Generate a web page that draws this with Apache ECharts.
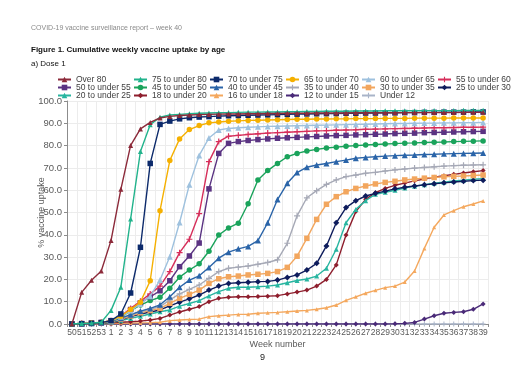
<!DOCTYPE html>
<html><head><meta charset="utf-8">
<script src="https://cdn.jsdelivr.net/npm/echarts@6/dist/echarts.min.js"></script>
<style>html,body{margin:0;padding:0;background:#fff}#c{width:524px;height:370px}</style>
</head><body><div id="c"></div>
<script>
const weeks = ['50','51','52','53','1','2','3','4','5','6','7','8','9','10','11','12','13','14','15','16','17','18','19','20','21','22','23','24','25','26','27','28','29','30','31','32','33','34','35','36','37','38','39'];
const yTicks = [0,10,20,30,40,50,60,70,80,90,100];

const over80 = [0,14.2,19.6,23.8,37.5,60.4,80.1,87.5,90.4,92.4, 93.1,93.5,93.7,93.9,94.0,94.1,94.2,94.2,94.3,94.3, 94.4,94.4,94.5,94.5,94.5,94.6,94.6,94.6,94.6,94.7, 94.7,94.7,94.7,94.7,94.8,94.8,94.8,94.8,94.8,94.8, 94.9,94.9,94.9];
const age75 = [0,0.2,0.4,0.8,6.1,16.5,47.1,77.4,89.4,92.7, 93.7,94.0,94.3,94.5,94.6,94.7,94.8,94.9,95.0,95.0, 95.1,95.1,95.2,95.2,95.3,95.3,95.4,95.4,95.4,95.5, 95.5,95.5,95.6,95.6,95.6,95.6,95.7,95.7,95.7,95.7, 95.8,95.8,95.8];
const age70 = [0,0.1,0.3,0.6,1.5,4.5,13.9,34.4,72.0,89.5, 91.0,92.0,92.5,92.8,93.0,93.2,93.4,93.5,93.6,93.7, 93.8,93.9,94.0,94.1,94.2,94.3,94.35,94.4,94.5,94.5, 94.6,94.6,94.7,94.7,94.8,94.8,94.9,94.9,95.0,95.0, 95.0,95.1,95.1];
const age65 = [0,0.2,0.4,0.7,1.5,3.5,6.5,9.8,19.4,50.8, 73.3,83.0,87.2,89.0,90.2,90.6,90.9,91.1,91.3,91.4, 91.5,91.6,91.7,91.8,91.8,91.9,91.9,92.0,92.0,92.1, 92.1,92.1,92.2,92.2,92.2,92.3,92.3,92.3,92.3,92.4, 92.4,92.4,92.4];
const age60 = [0,0.2,0.4,0.7,1.4,3.2,6.0,9.0,12.5,19.7, 30.2,45.5,62.5,75.6,83.4,87.0,87.7,88.0,88.2,88.4, 88.6,88.7,88.8,88.9,89.0,89.1,89.2,89.3,89.4,89.5, 89.6,89.7,89.8,89.9,89.9,90.0,90.1,90.1,90.2,90.2, 90.3,90.3,90.4];
const age55 = [0,0.2,0.4,0.7,1.5,3.5,7.0,10.2,13.5,17.0, 23.5,32.0,38.0,49.5,72.8,81.8,84.2,84.6,85.0,85.3, 85.6,85.8,86.0,86.2,86.4,86.6,86.7,86.9,87.0,87.1, 87.3,87.4,87.5,87.6,87.7,87.8,87.9,88.0,88.0,88.1, 88.2,88.2,88.3];
const age50 = [0,0.2,0.4,0.7,1.4,3.3,6.5,9.5,12.2,14.9, 19.4,25.7,30.5,36.3,60.6,76.5,81.0,81.8,82.3,82.7, 83.0,83.3,83.5,83.7,83.9,84.1,84.3,84.5,84.6,84.8, 84.9,85.1,85.2,85.4,85.5,85.6,85.8,85.9,86.0,86.1, 86.2,86.3,86.4];
const age45 = [0,0.2,0.4,0.7,1.3,3.0,6.0,8.5,10.5,12.0, 16.0,21.0,24.2,27.0,32.6,39.9,43.1,45.2,53.9,64.6, 68.8,72.0,75.0,76.5,77.6,78.3,78.9,79.3,79.7,80.0, 80.3,80.5,80.7,80.9,81.1,81.2,81.4,81.5,81.6,81.8, 81.9,82.0,82.1];
const age40 = [0,0.2,0.3,0.6,1.2,2.6,4.2,5.8,7.0,8.6, 12.2,16.5,19.7,21.6,25.3,29.5,32.2,33.7,34.8,37.4, 45.4,55.8,63.1,67.9,70.3,71.3,72.0,72.8,73.5,74.3, 74.7,75.0,75.3,75.5,75.7,75.8,76.0,76.1,76.3,76.4, 76.5,76.6,76.7];
const age35 = [0,0.2,0.3,0.5,1.1,2.4,4.0,5.5,6.6,7.8, 10.8,13.5,15.5,17.5,20.5,23.5,25.0,25.5,26.0,26.8, 27.6,28.8,36.2,48.5,56.6,59.8,62.6,64.6,66.1,66.8, 67.6,68.0,68.6,69.1,69.5,69.9,70.2,70.5,70.8,71.0, 71.2,71.3,71.4];
const age30 = [0,0.1,0.3,0.5,1.0,2.1,3.6,5.0,6.0,7.0, 9.3,11.5,13.3,15.2,18.2,20.3,21.2,21.5,22.0,22.3, 22.7,23.5,25.4,30.4,38.4,46.9,53.7,57.1,59.3,60.8, 61.9,62.8,63.5,64.0,64.6,65.0,65.4,65.7,66.0,66.2, 66.4,66.6,66.8];
const age25 = [0,0.1,0.3,0.5,0.9,1.9,3.3,4.5,5.4,6.3, 8.1,9.8,11.3,13.0,15.2,17.0,18.2,18.5,18.7,19.0, 19.1,19.7,20.9,22.0,24.2,27.2,35.0,45.4,52.2,55.3, 57.4,58.6,59.6,60.6,61.3,61.9,62.4,62.9,63.3,63.7, 64.0,64.3,64.5];
const age20 = [0,0.1,0.2,0.4,0.7,1.5,2.5,3.5,4.5,5.5, 6.3,8.0,9.2,10.5,12.6,14.5,16.0,16.5,16.5,16.7, 17.0,17.5,18.5,19.5,20.2,21.5,25.0,33.5,45.4,51.4, 55.3,58.2,59.1,60.0,61.0,61.8,62.5,63.1,63.6,64.1, 64.5,64.9,65.2];
const age18 = [0,0.1,0.2,0.3,0.5,0.8,1.0,1.3,1.8,2.5, 4.0,5.4,6.6,7.8,10.0,11.5,12.0,12.2,12.2,12.3, 12.5,12.7,13.5,14.3,15.2,17.0,20.0,26.5,39.9,50.4, 55.9,58.9,60.8,62.2,63.2,64.2,65.0,65.8,66.5,67.1, 67.7,68.3,68.8];
const age16 = [0,0,0.1,0.1,0.2,0.3,0.4,0.5,0.6,0.8, 1.5,1.8,2.0,2.2,3.3,3.7,4.0,4.3,4.4,4.8, 5.0,5.2,5.5,5.8,6.1,6.6,7.3,8.5,10.6,12.2, 13.8,15.1,16.3,17.0,18.8,23.8,33.9,43.4,48.9,50.8, 52.6,53.8,55.2];
const age12 = [0,0,0,0,0,0,0,0,0,0, 0,0,0,0,0,0,0,0,0,0, 0,0,0,0,0,0,0,0,0,0, 0,0,0,0.1,0.3,0.7,2.2,3.7,4.8,5.2, 5.5,6.6,9.0];
const under12 = [0,0,0,0,0,0,0,0,0,0, 0,0,0,0,0,0,0,0,0,0, 0,0,0,0,0,0,0,0,0,0, 0,0,0,0,0,0,0,0,0,0, 0,0,0];

const names = ['Over 80','75 to under 80','70 to under 75','65 to under 70','60 to under 65','55 to under 60',
  '50 to under 55','45 to under 50','40 to under 45','35 to under 40','30 to under 35','25 to under 30',
  '20 to under 25','18 to under 20','16 to under 18','12 to under 15','Under 12'];
const values = [over80,age75,age70,age65,age60,age55,age50,age45,age40,age35,age30,age25,age20,age18,age16,age12,under12];

const PLUS = 'path://M4,0h2v4h4v2h-4v4h-2v-4h-4v-2h4z';
const styles = [
  ['#8c2a3a','triangle',5],['#22b38c','triangle',5],['#0c2a6b','rect',5.5],['#f5b000','circle',5.5],
  ['#9ec1de','triangle',6],['#d62e5a',PLUS,6],['#5a3382','rect',5.5],['#1aa35b','circle',5.5],
  ['#2a64a8','triangle',6],['#a6a9b6',PLUS,6],['#f2a65e','rect',5.5],['#0e1c5c','diamond',6],
  ['#28b5a0','triangle',5],['#8e1e2d','diamond',5],['#f4a85e','triangle',4],['#4a2a78','diamond',5],['#a9b4c8',PLUS,5]
];

const FONT = 'Liberation Sans, Arial, sans-serif';
const series = names.map((n,i)=>({
  name:n, type:'line', data:values[i], symbol:styles[i][1], symbolSize:styles[i][2],
  itemStyle:{color:styles[i][0]}, lineStyle:{color:styles[i][0], width:1.4},
  z: 20 - i, animation:false
}));

const colX = [57,133,209,285,361,437];
const legends = colX.map((x,c)=>({
  data: [names[c], names[c+6], names[c+12]].filter(Boolean),
  orient:'vertical', left:x, top:75, itemGap:-1, itemWidth:13, itemHeight:7, padding:0,
  selectedMode:false,
  textStyle:{fontSize:8.5, lineHeight:8, color:'#404040', fontFamily:FONT}
}));

const chart = echarts.init(document.getElementById('c'), null, {renderer:'canvas'});
chart.setOption({
  animation:false,
  backgroundColor:'#fff',
  title:[
    {text:'COVID-19 vaccine surveillance report \u2013 week 40', left:31, top:25, padding:0, textStyle:{fontSize:7, fontWeight:'normal', color:'#8a8a8a', fontFamily:FONT}},
    {text:'Figure 1. Cumulative weekly vaccine uptake by age', left:31, top:46, padding:0, textStyle:{fontSize:8, fontWeight:'bold', color:'#111', fontFamily:FONT}},
    {text:'a) Dose 1', left:31, top:60, padding:0, textStyle:{fontSize:8, fontWeight:'normal', color:'#111', fontFamily:FONT}},
    {text:'9', left:260, top:353, padding:0, textStyle:{fontSize:9, fontWeight:'normal', color:'#222', fontFamily:FONT}}
  ],
  legend: legends,
  grid:{left:67, right:36, top:101, bottom:46, containLabel:false},
  xAxis:{
    type:'category', data:weeks, boundaryGap:true,
    name:'Week number', nameLocation:'middle', nameGap:16, nameMoveOverlap:false,
    nameTextStyle:{fontSize:9, color:'#595959', fontFamily:FONT},
    axisLine:{lineStyle:{color:'#8c8c8c'}},
    axisTick:{show:true, length:3, lineStyle:{color:'#8c8c8c'}, interval:0},
    axisLabel:{interval:0, fontSize:8.5, color:'#595959', margin:4, fontFamily:FONT},
    splitLine:{show:true, interval:0, lineStyle:{color:'#ececec'}}
  },
  yAxis:{
    type:'value', min:yTicks[0], max:yTicks[yTicks.length-1], interval:10,
    name:'% vaccine uptake', nameLocation:'middle', nameGap:21, nameRotate:90, nameMoveOverlap:false,
    nameTextStyle:{fontSize:9, color:'#595959', fontFamily:FONT},
    axisLine:{show:true, lineStyle:{color:'#8c8c8c'}},
    axisTick:{show:true, length:3, lineStyle:{color:'#8c8c8c'}},
    axisLabel:{fontSize:9.5, color:'#595959', margin:5, fontFamily:FONT, formatter:v=>v.toFixed(1)},
    splitLine:{lineStyle:{color:'#ececec'}}
  },
  series: series
});
</script></body></html>
